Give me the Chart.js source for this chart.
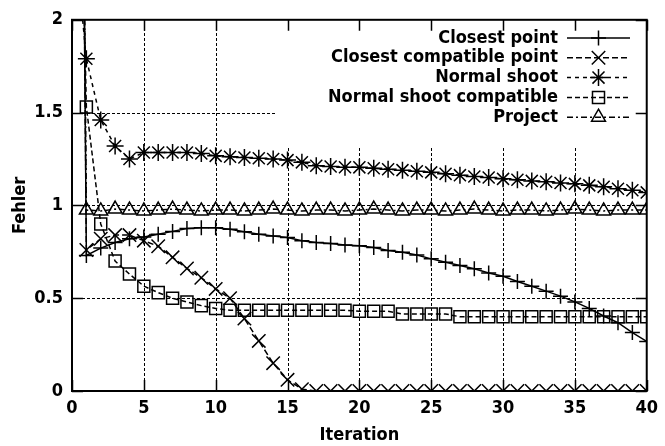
<!DOCTYPE html>
<html>
<head>
<meta charset="utf-8">
<script src="https://cdn.jsdelivr.net/npm/chart.js@4/dist/chart.umd.min.js"></script>
<style>
  html, body { margin: 0; padding: 0; background: #fff; }
  #wrap { width: 665px; height: 446px; }
</style>
</head>
<body>
<div id="wrap"><canvas id="err-chart" width="665" height="446"></canvas></div>
<script>
// iteration index (x) and error values per method
const iterations = [0, 1, 2, 3, 4, 5, 6, 7, 8, 9, 10, 11, 12, 13, 14, 15, 16, 17, 18, 19, 20,
    21, 22, 23, 24, 25, 26, 27, 28, 29, 30, 31, 32, 33, 34, 35, 36, 37, 38, 39, 40];

const closestPoint = [10, 0.73, 0.77, 0.80, 0.82, 0.83, 0.845, 0.86, 0.875, 0.88, 0.88,
    0.872, 0.858, 0.845, 0.835, 0.827, 0.81, 0.80, 0.795, 0.787, 0.783,
    0.773, 0.757, 0.748, 0.733, 0.712, 0.694, 0.676, 0.659, 0.636, 0.618,
    0.59, 0.564, 0.538, 0.511, 0.48, 0.445, 0.404, 0.368, 0.315, 0.267];

const closestCompatible = [10, 0.76, 0.82, 0.84, 0.84, 0.81, 0.78, 0.72, 0.66, 0.61, 0.55,
    0.50, 0.39, 0.27, 0.15, 0.06, 0.01, 0, 0, 0, 0,
    0, 0, 0, 0, 0, 0, 0, 0, 0, 0,
    0, 0, 0, 0, 0, 0, 0, 0, 0, 0];

const normalShoot = [2.6, 1.79, 1.46, 1.32, 1.25, 1.285, 1.285, 1.285, 1.285, 1.28, 1.267,
    1.262, 1.258, 1.254, 1.25, 1.244, 1.232, 1.214, 1.21, 1.206, 1.205,
    1.2, 1.195, 1.19, 1.184, 1.178, 1.17, 1.163, 1.156, 1.15, 1.143,
    1.138, 1.132, 1.127, 1.121, 1.116, 1.108, 1.1, 1.09, 1.082, 1.07];

const normalShootCompatible = [5, 1.53, 0.9, 0.7, 0.63, 0.565, 0.53, 0.50, 0.48, 0.46, 0.445,
    0.435, 0.435, 0.435, 0.435, 0.435, 0.435, 0.435, 0.435, 0.435, 0.43,
    0.43, 0.43, 0.415, 0.415, 0.415, 0.415, 0.40, 0.40, 0.40, 0.40,
    0.40, 0.40, 0.40, 0.40, 0.40, 0.40, 0.40, 0.40, 0.40, 0.40];

const project = [10, 0.975, 0.97, 0.98, 0.975, 0.97, 0.975, 0.98, 0.975, 0.97, 0.975,
    0.975, 0.97, 0.975, 0.98, 0.975, 0.97, 0.975, 0.975, 0.97, 0.975,
    0.98, 0.975, 0.97, 0.975, 0.975, 0.97, 0.975, 0.98, 0.975, 0.97,
    0.975, 0.975, 0.97, 0.975, 0.98, 0.975, 0.97, 0.975, 0.975, 0.975];

const xTickValues = [0, 5, 10, 15, 20, 25, 30, 35, 40];
const yTickValues = [0, 0.5, 1, 1.5, 2];

const FONT_FAMILY = "'DejaVu Sans Condensed', 'Liberation Sans Narrow', 'DejaVu Sans', sans-serif";
const font = { family: FONT_FAMILY, size: 18, weight: 'bold' };

// the key sits in the upper right corner; grid lines are not drawn under it
const KEY = { textRight: 558, lineLeft: 567, lineRight: 630, firstRow: 38, rowStep: 19.8,
              boxLeft: 277, boxBottom: 147 };
const TICK_LEN = 11;

const framePlugin = {
    id: 'frame',
    beforeDatasetsDraw(chart) {
        const { ctx, chartArea: a, scales: { x, y } } = chart;
        ctx.save();
        ctx.beginPath();
        ctx.rect(a.left, a.top, a.right - a.left, a.bottom - a.top);
        ctx.rect(KEY.boxLeft, a.top, a.right - KEY.boxLeft, KEY.boxBottom - a.top);
        ctx.clip('evenodd');
        ctx.strokeStyle = '#000';
        ctx.lineWidth = 1;
        ctx.setLineDash([3, 2]);
        ctx.beginPath();
        xTickValues.slice(1, -1).forEach(v => {
            const px = Math.round(x.getPixelForValue(v)) + 0.5;
            ctx.moveTo(px, a.bottom);
            ctx.lineTo(px, a.top);
        });
        yTickValues.slice(1, -1).forEach(v => {
            const py = Math.round(y.getPixelForValue(v)) + 0.5;
            ctx.moveTo(a.left, py);
            ctx.lineTo(a.right, py);
        });
        ctx.stroke();
        ctx.restore();
    },
    afterDatasetsDraw(chart) {
        const { ctx, chartArea: a, scales: { x, y } } = chart;
        ctx.save();
        ctx.strokeStyle = '#000';
        ctx.setLineDash([]);
        ctx.lineWidth = 1.5;
        ctx.beginPath();
        xTickValues.forEach(v => {
            const px = Math.round(x.getPixelForValue(v)) + 0.5;
            ctx.moveTo(px, a.bottom); ctx.lineTo(px, a.bottom - TICK_LEN);
            ctx.moveTo(px, a.top); ctx.lineTo(px, a.top + TICK_LEN);
        });
        yTickValues.forEach(v => {
            const py = Math.round(y.getPixelForValue(v)) + 0.5;
            ctx.moveTo(a.left, py); ctx.lineTo(a.left + TICK_LEN, py);
            ctx.moveTo(a.right, py); ctx.lineTo(a.right - TICK_LEN, py);
        });
        ctx.stroke();
        ctx.lineWidth = 2;
        ctx.strokeRect(a.left, a.top, a.right - a.left, a.bottom - a.top);
        ctx.restore();
    }
};

// gnuplot style key: right aligned title, then a line sample with the point in its middle
const keyPlugin = {
    id: 'key',
    afterDraw(chart) {
        const ctx = chart.ctx;
        ctx.save();
        ctx.font = `${font.weight} ${font.size}px ${FONT_FAMILY}`;
        ctx.textAlign = 'right';
        ctx.textBaseline = 'middle';
        chart.data.datasets.forEach((ds, i) => {
            const yc = KEY.firstRow + i * KEY.rowStep;
            ctx.fillStyle = '#000';
            ctx.fillText(ds.label, KEY.textRight, yc);
            ctx.strokeStyle = '#000';
            ctx.lineWidth = ds.borderWidth;
            ctx.setLineDash(ds.borderDash || []);
            ctx.beginPath();
            ctx.moveTo(KEY.lineLeft, yc);
            ctx.lineTo(KEY.lineRight, yc);
            ctx.stroke();
            ctx.setLineDash([]);
            ctx.fillStyle = 'rgba(0,0,0,0)';
            ctx.lineWidth = ds.pointBorderWidth;
            Chart.helpers.drawPoint(ctx, {
                pointStyle: ds.pointStyle,
                radius: ds.pointRadius,
                borderWidth: ds.pointBorderWidth,
                rotation: 0
            }, (KEY.lineLeft + KEY.lineRight) / 2, yc);
        });
        ctx.restore();
    }
};

function series(label, data, pointStyle, radius, dash) {
    return {
        label: label,
        data: data,
        borderColor: '#000',
        backgroundColor: 'rgba(0,0,0,0)',
        borderWidth: 1.5,
        borderDash: dash,
        pointStyle: pointStyle,
        pointRadius: radius,
        pointBorderWidth: 1.5,
        pointBorderColor: '#000',
        pointBackgroundColor: 'rgba(0,0,0,0)',
        tension: 0,
        fill: false
    };
}

const ctx = document.getElementById('err-chart').getContext('2d');
const errChart = new Chart(ctx, {
    type: 'line',
    data: {
        labels: iterations,
        datasets: [
            series('Closest point', closestPoint, 'cross', 7.5, []),
            series('Closest compatible point', closestCompatible, 'crossRot', 9.5, [6, 3]),
            series('Normal shoot', normalShoot, 'star', 8.5, [4, 4]),
            series('Normal shoot compatible', normalShootCompatible, 'rect', 8.5, [5, 3]),
            series('Project', project, 'triangle', 8, [6, 3, 2, 3])
        ]
    },
    options: {
        responsive: false,
        animation: false,
        devicePixelRatio: 1,
        layout: { padding: { top: 16, right: 13, left: 0, bottom: 0 } },
        plugins: {
            legend: { display: false },
            tooltip: { enabled: false }
        },
        scales: {
            x: {
                type: 'linear',
                min: 0,
                max: 40,
                grid: { display: false, drawTicks: false },
                border: { display: false },
                afterBuildTicks: s => { s.ticks = xTickValues.map(v => ({ value: v })); },
                afterFit: s => { s.height = 55; },
                ticks: { font: font, color: '#000', padding: 7, maxRotation: 0 },
                title: { display: true, text: 'Iteration', font: font, color: '#000', padding: 0 }
            },
            y: {
                type: 'linear',
                min: 0,
                max: 2,
                grid: { display: false, drawTicks: false },
                border: { display: false },
                afterBuildTicks: s => { s.ticks = yTickValues.map(v => ({ value: v })); },
                afterFit: s => { s.width = 72; },
                ticks: { font: font, color: '#000', padding: 9, callback: v => String(v) },
                title: { display: true, text: 'Fehler', font: font, color: '#000', padding: { top: 10 } }
            }
        }
    },
    plugins: [framePlugin, keyPlugin]
});
</script>
</body>
</html>
